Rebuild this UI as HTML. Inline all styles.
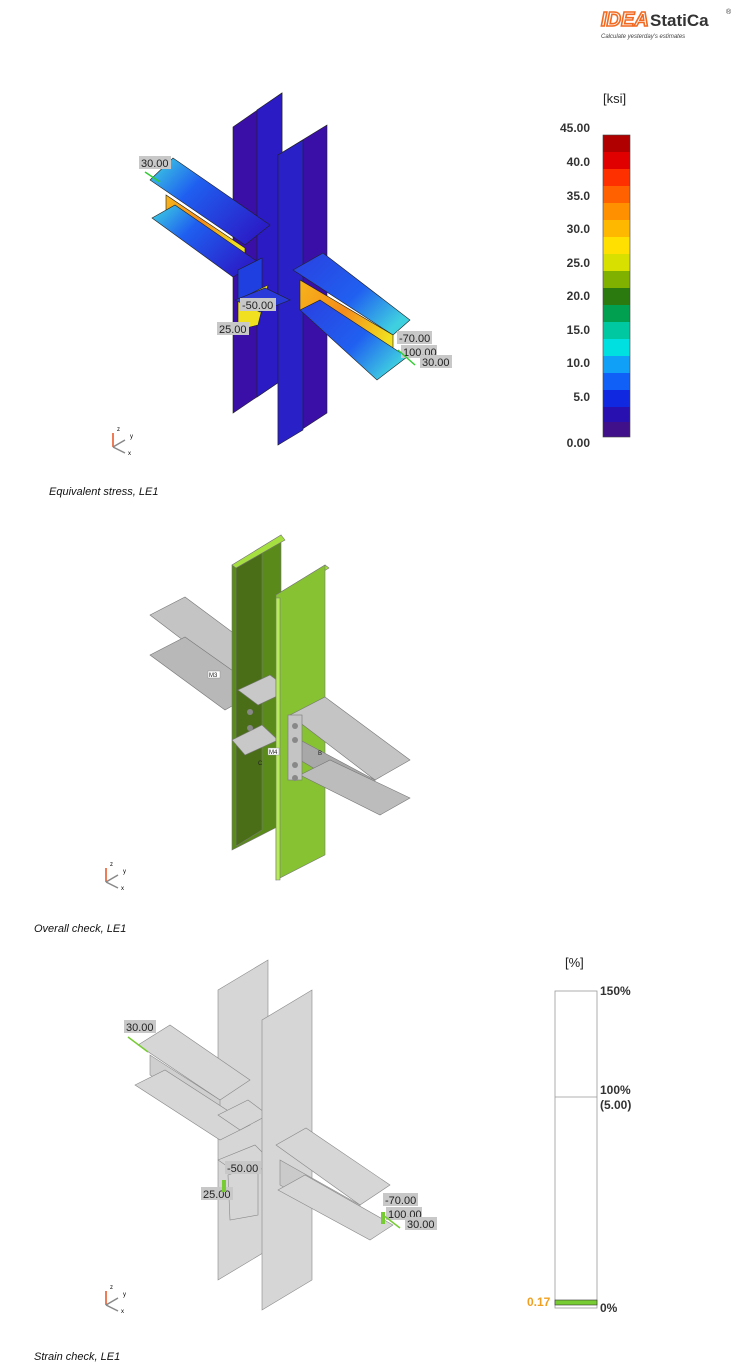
<!DOCTYPE html>
<html><head><meta charset="utf-8"><style>
body{margin:0;background:#fff;width:743px;height:1369px;overflow:hidden;font-family:"Liberation Sans",sans-serif}
svg{position:absolute;left:0;top:0}
</style></head><body>
<svg width="743" height="1369" viewBox="0 0 743 1369" font-family="Liberation Sans, sans-serif">
<defs>
<linearGradient id="beamL" x1="0" y1="0" x2="1" y2="0.7"><stop offset="0" stop-color="#3fd7e0"/><stop offset="0.4" stop-color="#1f5ff0"/><stop offset="1" stop-color="#2a1ec8"/></linearGradient>
<linearGradient id="webY" x1="0" y1="0" x2="1" y2="0.6"><stop offset="0" stop-color="#f7b51a"/><stop offset="0.5" stop-color="#f58c1a"/><stop offset="1" stop-color="#f0e020"/></linearGradient>
<linearGradient id="beamR" x1="0" y1="0" x2="1" y2="0.7"><stop offset="0" stop-color="#2a3fe0"/><stop offset="0.6" stop-color="#2060f0"/><stop offset="1" stop-color="#3fd0e0"/></linearGradient>
</defs>
<!-- logo -->
<text x="601" y="26" font-size="20" font-weight="bold" font-style="italic" fill="#fff" stroke="#f26a21" stroke-width="1.6">IDEA</text>
<text x="650" y="26" font-size="17" font-weight="bold" fill="#333">StatiCa</text>
<text x="726" y="14" font-size="7" fill="#333">®</text>
<text x="601" y="38" font-size="6" font-style="italic" fill="#444">Calculate yesterday's estimates</text>

<!-- FIG 1 -->
<g stroke="#222" stroke-width="0.6">
<polygon points="233,127 282,93 282,380 233,413" fill="#3a0fa8"/>
<polygon points="257,110 282,93 282,380 257,397" fill="#2b1bc4"/>
<polygon points="150,180 173,158 270,225 245,245" fill="url(#beamL)"/>
<polygon points="166,195 166,210 245,262 245,248" fill="url(#webY)"/>
<polygon points="152,218 175,205 258,262 233,277" fill="url(#beamL)"/>
<polygon points="238,270 262,258 262,300 238,312" fill="#1f3fe0"/>
<polygon points="238,300 268,285 258,325 238,330" fill="#f0e020"/>
<polygon points="278,155 327,125 327,413 278,445" fill="#3a0fa8"/>
<polygon points="278,155 303,140 303,430 278,445" fill="#2a20c8"/>
<polygon points="293,270 323,253 410,320 393,335" fill="url(#beamR)"/>
<polygon points="300,280 393,335 393,367 300,310" fill="url(#webY)"/>
<polygon points="300,310 320,300 407,357 377,380" fill="url(#beamR)"/>
<polygon points="235,300 265,288 290,300 260,312" fill="#2a3ad8"/>
</g>
<g font-size="11" fill="#222">
<rect x="139" y="156" width="32" height="13" fill="#c8c8c8"/><text x="141" y="167">30.00</text>
<rect x="240" y="298" width="36" height="13" fill="#c8c8c8"/><text x="242" y="309">-50.00</text>
<rect x="217" y="322" width="32" height="13" fill="#c8c8c8"/><text x="219" y="333">25.00</text>
<rect x="397" y="331" width="35" height="13" fill="#c8c8c8"/><text x="399" y="342">-70.00</text>
<rect x="401" y="345" width="36" height="13" fill="#c8c8c8"/><text x="403" y="356">100.00</text>
<rect x="420" y="355" width="32" height="13" fill="#c8c8c8"/><text x="422" y="366">30.00</text>
</g>
<line x1="145" y1="172" x2="160" y2="182" stroke="#3c3" stroke-width="1.5"/>
<line x1="398" y1="350" x2="415" y2="365" stroke="#3c3" stroke-width="1.5"/>
<!-- axis icons -->
<g id="ax" stroke-width="1.5">
<line x1="113" y1="447" x2="113" y2="433" stroke="#e85020"/>
<line x1="113" y1="447" x2="125" y2="440" stroke="#888"/>
<line x1="113" y1="447" x2="125" y2="453" stroke="#888"/>
<text x="117" y="431" font-size="6" stroke="none">z</text><text x="130" y="438" font-size="6" stroke="none">y</text><text x="128" y="455" font-size="6" stroke="none">x</text>
</g>
<use href="#ax" x="-7" y="435"/>
<use href="#ax" x="-7" y="858"/>

<!-- legend 1 -->
<text x="603" y="103" font-size="13" fill="#222">[ksi]</text>
<g stroke="none">
<rect x="603" y="135" width="27" height="17" fill="#b00000"/>
<rect x="603" y="152" width="27" height="17" fill="#e00000"/>
<rect x="603" y="169" width="27" height="17" fill="#ff3000"/>
<rect x="603" y="186" width="27" height="17" fill="#ff6000"/>
<rect x="603" y="203" width="27" height="17" fill="#ff9000"/>
<rect x="603" y="220" width="27" height="17" fill="#ffb800"/>
<rect x="603" y="237" width="27" height="17" fill="#ffe000"/>
<rect x="603" y="254" width="27" height="17" fill="#d8e000"/>
<rect x="603" y="271" width="27" height="17" fill="#80b000"/>
<rect x="603" y="288" width="27" height="17" fill="#2a7a10"/>
<rect x="603" y="305" width="27" height="17" fill="#00a050"/>
<rect x="603" y="322" width="27" height="17" fill="#00c8a0"/>
<rect x="603" y="339" width="27" height="17" fill="#00e0e0"/>
<rect x="603" y="356" width="27" height="17" fill="#10a0f8"/>
<rect x="603" y="373" width="27" height="17" fill="#1060f8"/>
<rect x="603" y="390" width="27" height="17" fill="#1028e0"/>
<rect x="603" y="407" width="27" height="15" fill="#2810b0"/>
<rect x="603" y="422" width="27" height="15" fill="#40108a"/>
</g>
<rect x="603" y="135" width="27" height="302" fill="none" stroke="#444" stroke-width="0.6"/>
<g font-size="12" font-weight="bold" fill="#333" text-anchor="end">
<text x="590" y="132">45.00</text><text x="590" y="166">40.0</text><text x="590" y="200">35.0</text><text x="590" y="233">30.0</text><text x="590" y="267">25.0</text><text x="590" y="300">20.0</text><text x="590" y="334">15.0</text><text x="590" y="367">10.0</text><text x="590" y="401">5.0</text><text x="590" y="447">0.00</text>
</g>
<text x="49" y="495" font-size="11" font-style="italic" fill="#111">Equivalent stress, LE1</text>

<!-- FIG 2 -->
<g stroke="#777" stroke-width="0.6">
<polygon points="150,615 185,597 290,675 255,695" fill="#c4c4c4"/>
<polygon points="150,655 185,637 260,690 225,710" fill="#b8b8b8"/>
<polygon points="232,565 281,535 281,825 232,850" fill="#5a8a1a"/>
<polygon points="236,565 262,548 262,830 236,846" fill="#4a6e18"/>
<polygon points="232,565 281,535 285,540 236,568" fill="#a6e040"/>
<polygon points="238,690 270,675 290,690 258,705" fill="#c8c8c8"/>
<polygon points="232,740 262,725 278,740 245,755" fill="#c8c8c8"/>
<polygon points="276,595 325,565 329,568 280,598" fill="#a6e040"/>
<polygon points="276,595 325,565 325,855 276,880" fill="#86c232"/>
<polygon points="276,598 280,598 280,880 276,880" fill="#b6ec5a"/>
<polygon points="290,715 325,697 410,760 375,780" fill="#c4c4c4"/>
<polygon points="300,740 375,780 375,805 300,760" fill="#a8a8a8"/>
<polygon points="300,775 330,760 410,798 380,815" fill="#bcbcbc"/>
<rect x="288" y="715" width="14" height="65" fill="#c4c4c4"/>
</g>
<g fill="#888"><circle cx="295" cy="726" r="3"/><circle cx="295" cy="740" r="3"/><circle cx="295" cy="765" r="3"/><circle cx="295" cy="778" r="3"/><circle cx="250" cy="712" r="3"/><circle cx="250" cy="728" r="3"/></g>
<g font-size="6" fill="#222"><rect x="208" y="671" width="12" height="7" fill="#fff" stroke="#888" stroke-width="0.4"/><text x="209" y="677">M3</text>
<rect x="268" y="748" width="11" height="7" fill="#fff" stroke="#888" stroke-width="0.4"/><text x="269" y="754">M4</text>
<text x="258" y="765">C</text><text x="318" y="755">B</text></g>
<text x="34" y="932" font-size="11" font-style="italic" fill="#111">Overall check, LE1</text>

<!-- FIG 3 -->
<g stroke="#888" stroke-width="0.6" fill="#d6d6d6">
<polygon points="218,990 268,960 268,1250 218,1280"/>
<polygon points="138,1045 170,1025 250,1080 220,1100"/>
<polygon points="150,1055 150,1075 220,1120 220,1100" fill="#cfcfcf"/>
<polygon points="135,1085 165,1070 250,1125 220,1140"/>
<polygon points="218,1115 248,1100 268,1115 240,1130"/>
<polygon points="218,1160 255,1145 275,1165 240,1175"/>
<polygon points="228,1175 258,1165 258,1215 230,1220"/>
<polygon points="262,1020 312,990 312,1280 262,1310"/>
<polygon points="276,1145 306,1128 390,1185 360,1205"/>
<polygon points="280,1160 360,1205 360,1230 280,1185" fill="#cacaca"/>
<polygon points="278,1190 305,1175 393,1225 370,1240"/>
</g>
<g font-size="11" fill="#222">
<rect x="124" y="1020" width="32" height="13" fill="#c8c8c8"/><text x="126" y="1031">30.00</text>
<rect x="225" y="1161" width="36" height="13" fill="#c8c8c8"/><text x="227" y="1172">-50.00</text>
<rect x="201" y="1187" width="32" height="13" fill="#c8c8c8"/><text x="203" y="1198">25.00</text>
<rect x="383" y="1193" width="35" height="13" fill="#c8c8c8"/><text x="385" y="1204">-70.00</text>
<rect x="386" y="1207" width="36" height="13" fill="#c8c8c8"/><text x="388" y="1218">100.00</text>
<rect x="405" y="1217" width="32" height="13" fill="#c8c8c8"/><text x="407" y="1228">30.00</text>
</g>
<rect x="222" y="1180" width="4" height="12" fill="#7c3"/>
<rect x="381" y="1212" width="4" height="12" fill="#7c3"/>
<line x1="128" y1="1037" x2="148" y2="1052" stroke="#7c3" stroke-width="1.5"/>
<line x1="383" y1="1215" x2="400" y2="1228" stroke="#7c3" stroke-width="1.5"/>

<text x="565" y="967" font-size="13" fill="#222">[%]</text>
<rect x="555" y="991" width="42" height="317" fill="#fff" stroke="#999" stroke-width="0.8"/>
<line x1="555" y1="1097" x2="597" y2="1097" stroke="#999" stroke-width="0.8"/>
<rect x="555" y="1300" width="42" height="5" fill="#7c3" stroke="#333" stroke-width="0.6"/>
<g font-size="12" font-weight="bold" fill="#333">
<text x="600" y="995">150%</text><text x="600" y="1094">100%</text><text x="600" y="1109">(5.00)</text><text x="600" y="1312">0%</text>
<text x="527" y="1306" fill="#f0a020">0.17</text></g>
<text x="34" y="1360" font-size="11" font-style="italic" fill="#111">Strain check, LE1</text>
</svg>
</body></html>
